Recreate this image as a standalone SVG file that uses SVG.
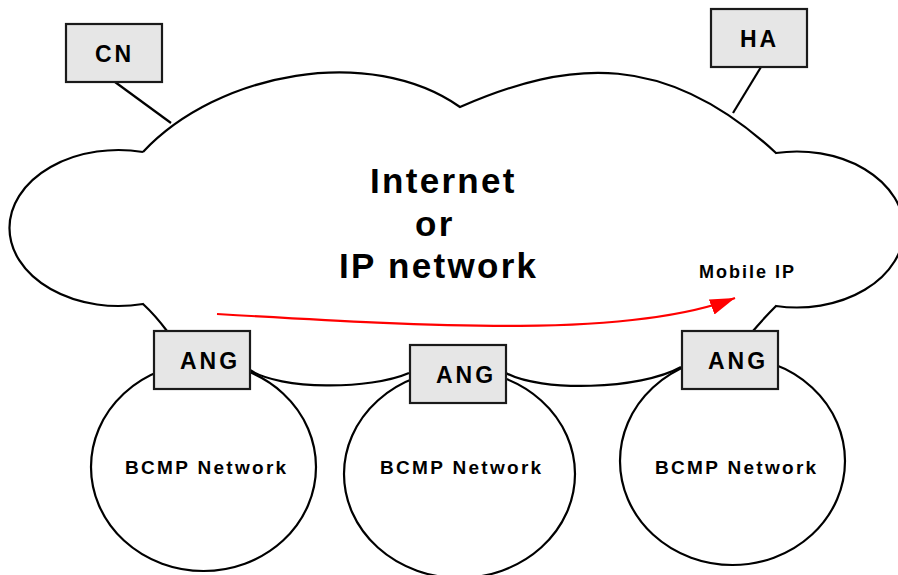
<svg xmlns="http://www.w3.org/2000/svg" width="898" height="575" viewBox="0 0 898 575">
<style>
.ln{fill:none;stroke:#000;stroke-width:2.2}
.box{fill:#e6e6e6;stroke:#1a1a1a;stroke-width:2.2}
.t{font-family:"Liberation Sans",Arial,sans-serif;font-weight:bold;fill:#000}
.lbl{font-size:23px;letter-spacing:3px}
.big{font-size:35px;letter-spacing:2.3px}
.sm{font-size:19px;letter-spacing:2.3px}
</style>
<defs>
<marker id="ah" markerUnits="userSpaceOnUse" markerWidth="28" markerHeight="18" refX="25" refY="8" orient="auto">
<path d="M0,0 L25,8 L0,16 Z" fill="#ff0000"/>
</marker>
</defs>
<g id="cloud">
<path class="ln" d="M143,152 C218,72 370,44 460,107 C570,59 666,51 776,153 A107,78 0 1 1 776,306 Q764,318 753,331 M250,370 C280,390 370,390 409,373 M506,373 C540,392 640,390 681,367 M167,331 Q155,315 143,304 A109,78 0 1 1 143,152"/>
<text class="t big" x="370" y="193">Internet</text>
<text class="t big" x="415" y="236">or</text>
<text class="t big" x="339" y="278">IP network</text>
</g>
<g id="connectors">
<line class="ln" x1="115" y1="82" x2="171" y2="123"/>
<line class="ln" x1="761" y1="67" x2="733" y2="113"/>
<path d="M217,314 C440,327 630,338 735,298" fill="none" stroke="#ff0000" stroke-width="2.2" marker-end="url(#ah)"/>
<text class="t" x="699" y="278" style="font-size:18px;letter-spacing:2px">Mobile IP</text>
</g>
<g id="bcmp1">
<ellipse class="ln" cx="203.5" cy="467" rx="112.5" ry="104"/>
<text class="t sm" x="125" y="474">BCMP Network</text>
</g>
<g id="bcmp2">
<ellipse class="ln" cx="459.5" cy="474" rx="115.5" ry="104"/>
<text class="t sm" x="380" y="474">BCMP Network</text>
</g>
<g id="bcmp3">
<ellipse class="ln" cx="732.5" cy="461" rx="112.5" ry="104"/>
<text class="t sm" x="655" y="474">BCMP Network</text>
</g>
<g id="cn">
<rect class="box" x="66" y="24" width="96" height="58"/>
<text class="t lbl" x="95" y="62">CN</text>
</g>
<g id="ha">
<rect class="box" x="711" y="9" width="96" height="58"/>
<text class="t lbl" x="740" y="47">HA</text>
</g>
<g id="ang1">
<rect class="box" x="154" y="331" width="96" height="58"/>
<text class="t lbl" x="180" y="369">ANG</text>
</g>
<g id="ang2">
<rect class="box" x="410" y="345" width="96" height="58"/>
<text class="t lbl" x="436" y="383">ANG</text>
</g>
<g id="ang3">
<rect class="box" x="682" y="331" width="96" height="58"/>
<text class="t lbl" x="708" y="369">ANG</text>
</g>
</svg>
